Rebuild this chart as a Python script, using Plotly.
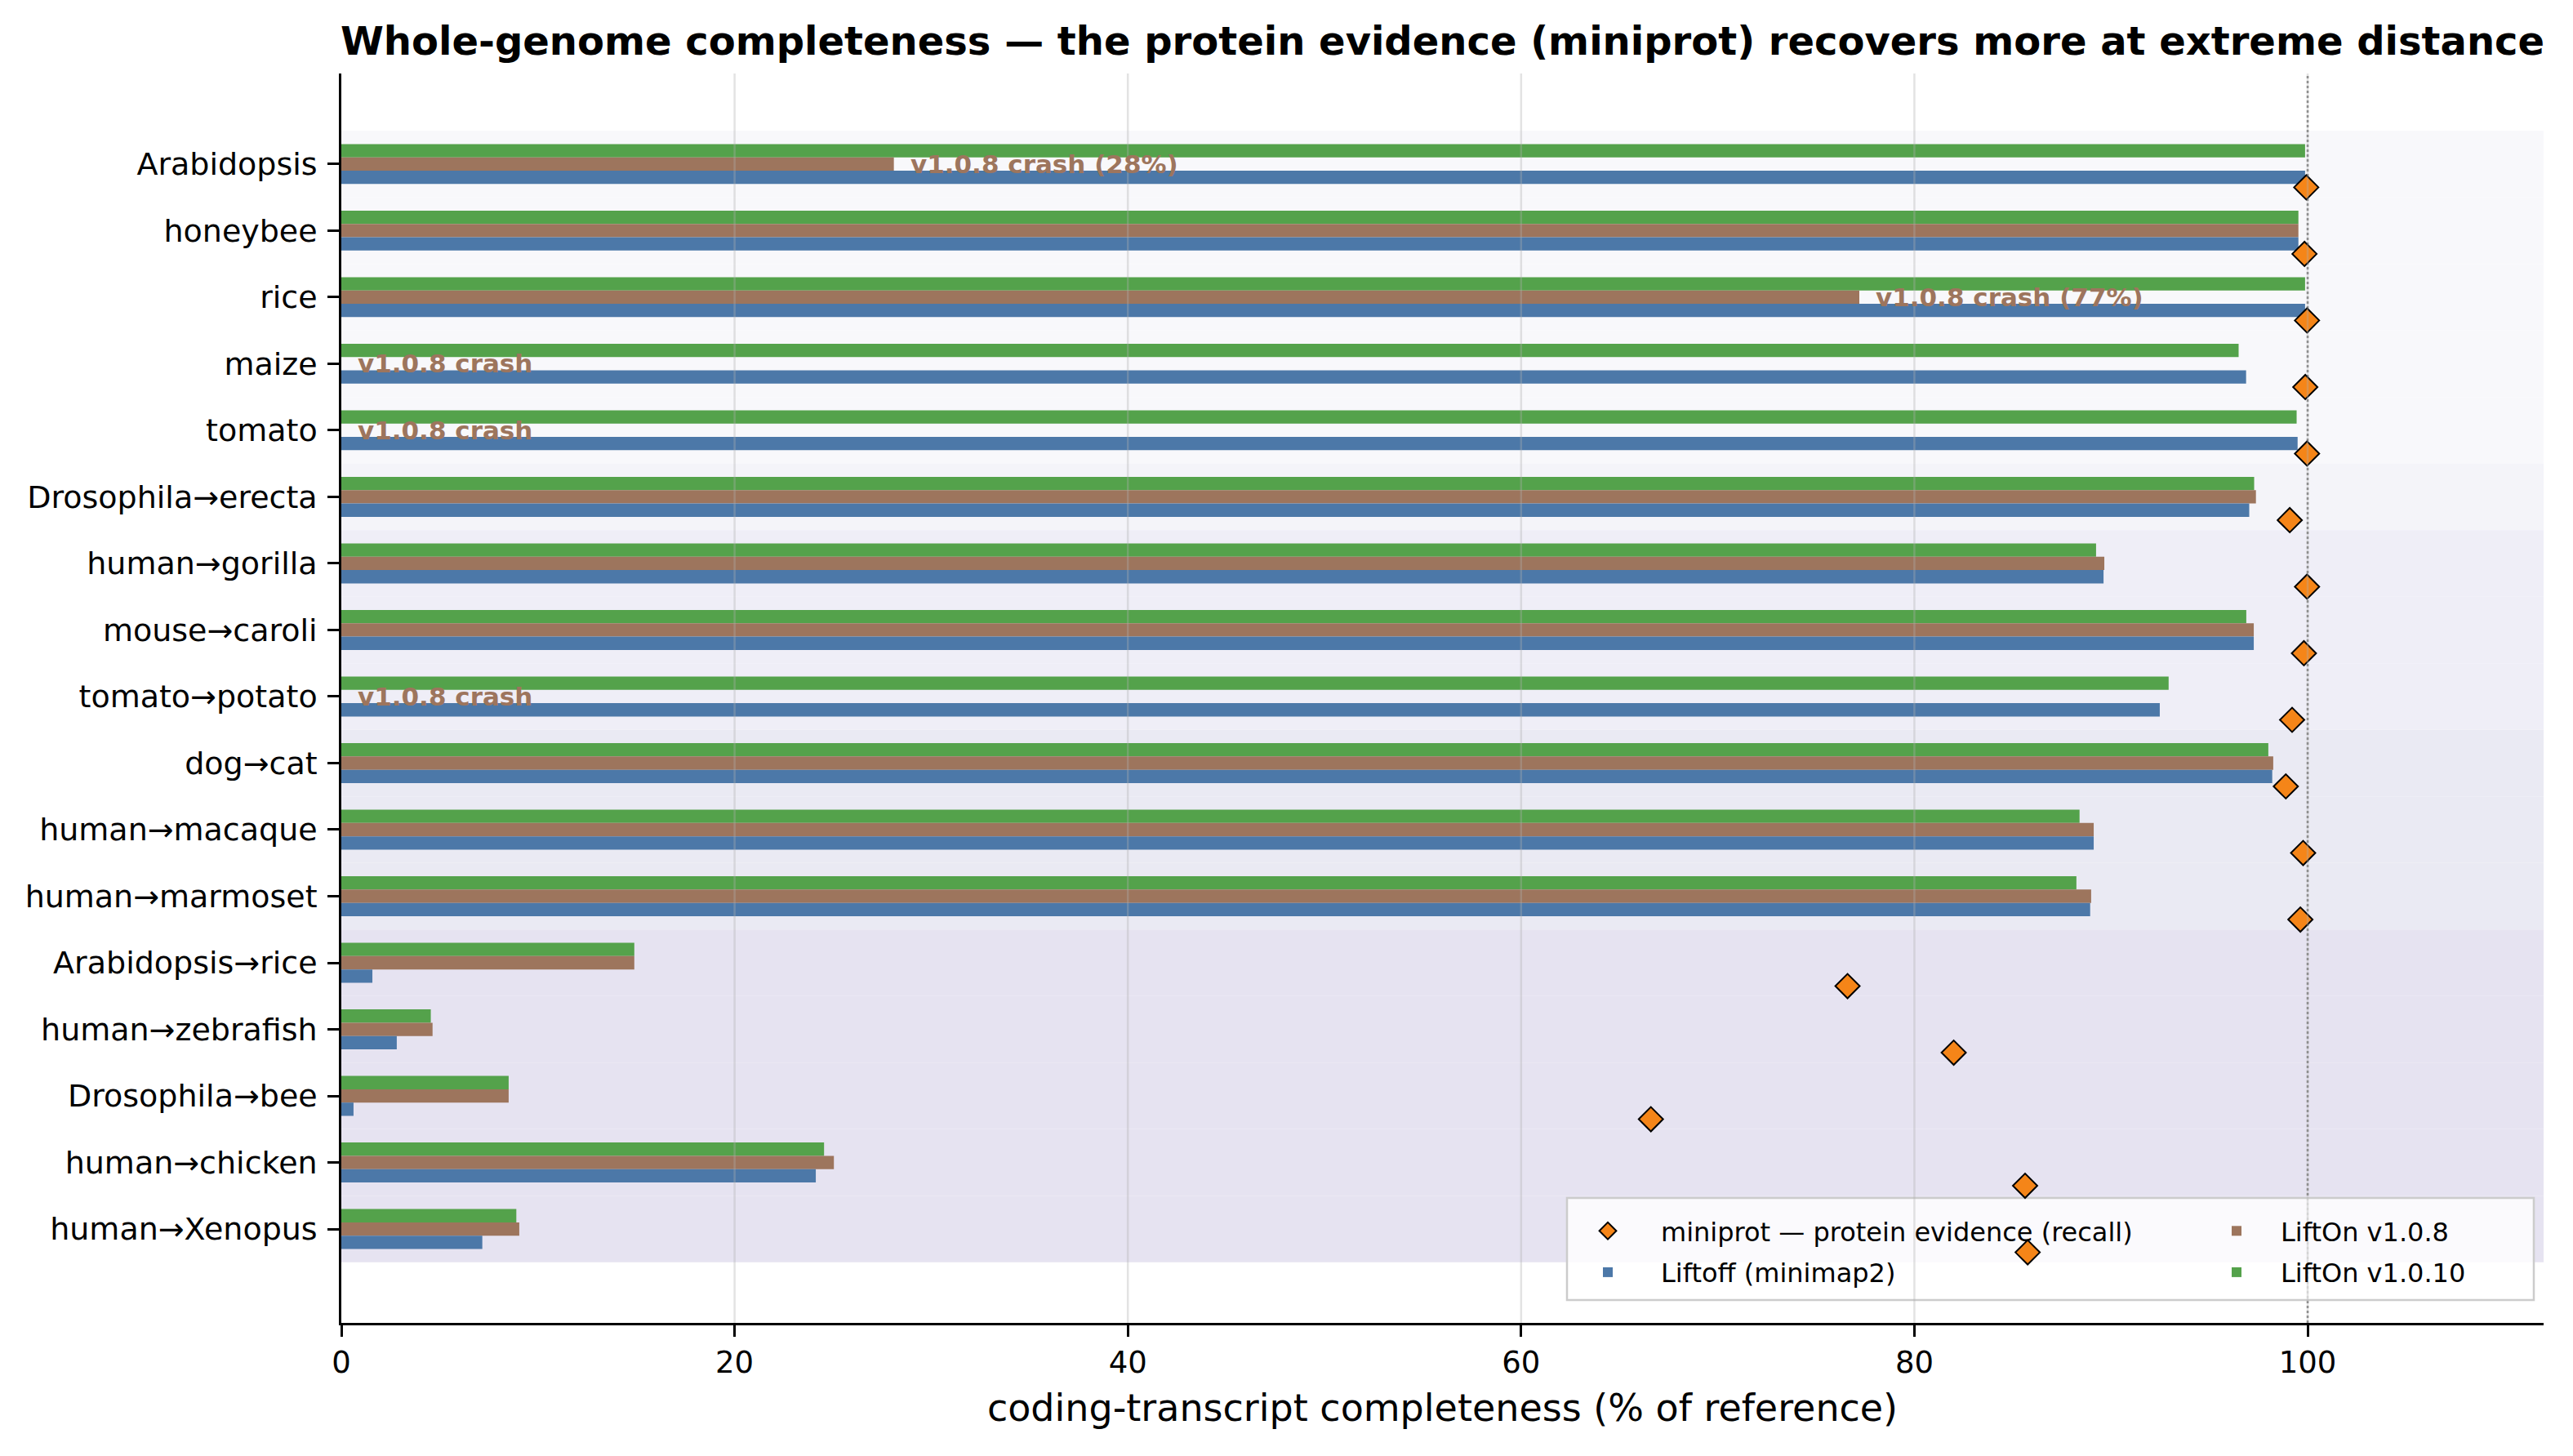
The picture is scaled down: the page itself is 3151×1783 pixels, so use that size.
import plotly.graph_objects as go

# ---------------- data ----------------
categories = ["Arabidopsis", "honeybee", "rice", "maize", "tomato",
              "Drosophila→erecta", "human→gorilla", "mouse→caroli", "tomato→potato",
              "dog→cat", "human→macaque", "human→marmoset",
              "Arabidopsis→rice", "human→zebrafish", "Drosophila→bee",
              "human→chicken", "human→Xenopus"]
distance_group = [0, 0, 0, 0, 0, 1, 2, 2, 2, 3, 3, 3, 4, 4, 4, 4, 4]

liftoff = [99.87, 99.53, 99.87, 96.87, 99.49, 97.03, 89.62, 97.26, 92.48,
           98.20, 89.12, 88.94, 1.58, 2.82, 0.62, 24.13, 7.17]
lifton_108 = [28.1, 99.53, 77.2, None, None, 97.37, 89.66, 97.26, None,
              98.25, 89.12, 88.99, 14.9, 4.64, 8.51, 25.05, 9.05]
lifton_1010 = [99.87, 99.53, 99.87, 96.49, 99.44, 97.28, 89.24, 96.88, 92.93,
               98.00, 88.40, 88.24, 14.9, 4.55, 8.51, 24.55, 8.90]
miniprot = [99.93, 99.84, 99.97, 99.88, 99.97, 99.09, 99.97, 99.81, 99.21,
            98.89, 99.77, 99.63, 76.6, 82.0, 66.6, 85.63, 85.76]
crash_note = ["v1.0.8 crash (28%)", "", "v1.0.8 crash (77%)", "v1.0.8 crash", "v1.0.8 crash",
              "", "", "", "v1.0.8 crash", "", "", "", "", "", "", "", ""]
x_ticks = [0, 20, 40, 60, 80, 100]

# ---------------- style ----------------
FONT = "DejaVu Sans"
C_BLUE, C_BROWN, C_GREEN, C_ORANGE = "#4c78a8", "#9d755d", "#54a24b", "#f58518"
band_colors = ["#f8f8fb", "#f4f4f9", "#efeef7", "#eaeaf3", "#e6e3f1"]

W, H = 3151, 1783
ML, MR, MT, MB = 418, 36, 90, 163
PW, PH = W - ML - MR, H - MT - MB


def px_x(p):  # pixel -> paper x
    return (p - ML) / PW


def px_y(p):  # pixel -> paper y
    return (H - MB - p) / PH


idx = list(range(len(categories)))

fig = go.Figure()
# bars (first trace drawn on top in a reversed axis)
fig.add_trace(go.Bar(x=lifton_1010, y=idx, orientation="h", name="LiftOn v1.0.10",
                     marker=dict(color=C_GREEN, line=dict(width=0)),
                     legend="legend2", legendrank=4, legendgroup="g4"))
fig.add_trace(go.Bar(x=lifton_108, y=idx, orientation="h", name="LiftOn v1.0.8",
                     marker=dict(color=C_BROWN, line=dict(width=0)),
                     legend="legend2", legendrank=3, legendgroup="g3"))
fig.add_trace(go.Bar(x=liftoff, y=idx, orientation="h", name="Liftoff (minimap2)",
                     marker=dict(color=C_BLUE, line=dict(width=0)),
                     legend="legend", legendrank=2, legendgroup="g2"))
fig.add_trace(go.Scatter(x=miniprot, y=[i + 0.35 for i in idx], mode="markers",
                         name="miniprot — protein evidence (recall)",
                         marker=dict(symbol="diamond", size=23, color=C_ORANGE,
                                     line=dict(color="black", width=2)),
                         legend="legend", legendrank=1, legendgroup="g1"))

shapes = []
# background bands per distance group
for i, g in zip(idx, distance_group):
    shapes.append(dict(type="rect", xref="paper", yref="y", x0=0, x1=1,
                       y0=i - 0.5, y1=i + 0.5, fillcolor=band_colors[g],
                       line=dict(width=0), layer="below"))
# reference line at 100 %
shapes.append(dict(type="line", xref="x", yref="paper", x0=100, x1=100, y0=0, y1=1,
                   line=dict(color="#7f7f7f", width=2.5, dash="dot"), layer="between"))
# legend frame
shapes.append(dict(type="rect", xref="paper", yref="paper", x0=px_x(1919), x1=px_x(3103),
                   y0=px_y(1592), y1=px_y(1467), fillcolor="rgba(255,255,255,0.82)",
                   line=dict(color="#cccccc", width=2.5), layer="between"))
# grid lines drawn over the bars
for t in x_ticks[1:]:
    shapes.append(dict(type="line", xref="x", yref="paper", x0=t, x1=t, y0=0, y1=1,
                       line=dict(color="rgba(176,176,176,0.35)", width=2.5), layer="above"))

annotations = []
for i, note in enumerate(crash_note):
    if note:
        base = lifton_108[i] if lifton_108[i] is not None else 0
        annotations.append(dict(x=base + 0.75, y=i, xref="x", yref="y", text="<b>" + note + "</b>",
                                showarrow=False, xanchor="left", yanchor="middle",
                                font=dict(family=FONT, size=31, color=C_BROWN)))

legend_common = dict(yanchor="top", xanchor="left", bgcolor="rgba(0,0,0,0)", borderwidth=0,
                     font=dict(size=32), traceorder="grouped", tracegroupgap=6)

fig.update_layout(
    width=W, height=H,
    margin=dict(l=ML, r=MR, t=MT, b=MB),
    paper_bgcolor="white", plot_bgcolor="white",
    font=dict(family=FONT, color="black"),
    barmode="group", bargap=0.4, bargroupgap=0,
    title=dict(text="<b>Whole-genome completeness — the protein evidence (miniprot) recovers more at extreme distance</b>",
               x=0.5, xref="paper", xanchor="center", y=1 - 50 / H, yref="container",
               yanchor="middle", font=dict(family=FONT, size=48, color="black")),
    xaxis=dict(range=[0, 112], tickvals=x_ticks, ticks="outside", ticklen=14, tickwidth=2.5,
               tickcolor="black", showline=True, linecolor="black", linewidth=2.5,
               showgrid=False, zeroline=False, tickfont=dict(size=37),
               title=dict(text="coding-transcript completeness (% of reference)",
                          font=dict(size=46), standoff=19)),
    yaxis=dict(range=[17.41, -1.36], tickvals=idx, ticktext=categories, ticks="outside",
               ticklen=14, tickwidth=2.5, tickcolor="black", showline=True, linecolor="black",
               linewidth=2.5, showgrid=False, zeroline=False, tickfont=dict(size=38),
               ticklabelstandoff=5),
    shapes=shapes,
    annotations=annotations,
    legend=dict(x=px_x(1904), y=px_y(1480), itemwidth=120, **legend_common),
    legend2=dict(x=px_x(2685), y=px_y(1480), itemwidth=98, **legend_common),
    showlegend=True,
)

fig.write_html("out.html")
